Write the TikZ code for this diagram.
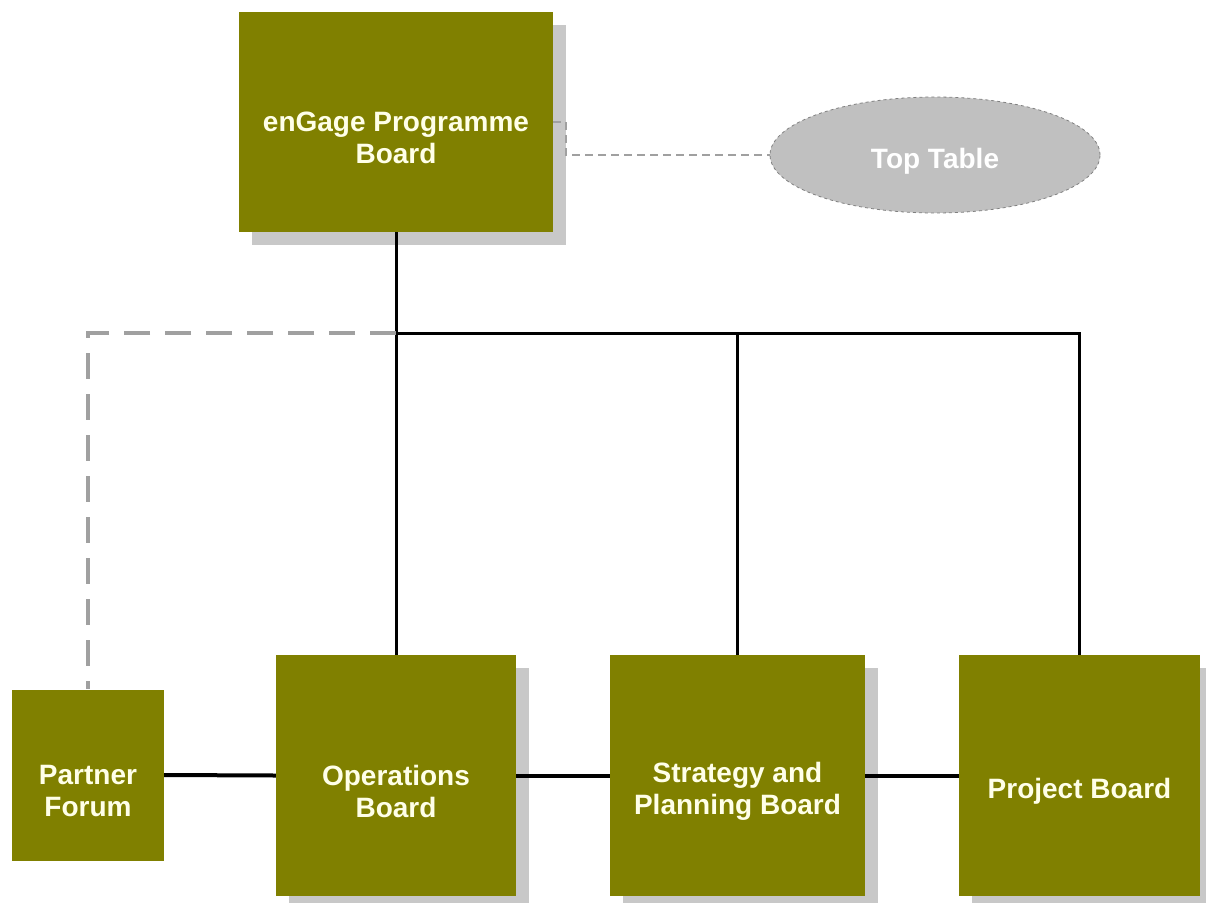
\documentclass[tikz,border=0pt]{standalone}
\usepackage{fontspec}
\setmainfont{Liberation Sans}
\usetikzlibrary{shapes.geometric,shadows}
\definecolor{olivebox}{RGB}{128,128,0}
\definecolor{shadowgray}{RGB}{200,200,200}
\definecolor{creamtext}{RGB}{255,255,232}
\definecolor{ellgray}{RGB}{192,192,192}
\definecolor{dashgray}{RGB}{160,160,160}
\tikzset{
  boardbox/.style={rectangle, fill=olivebox, inner sep=0pt},
  boardtext/.style={align=center, text=creamtext, inner sep=0pt,
    font=\fontsize{28}{32}\selectfont\bfseries},
  withtext/.style={label={[boardtext, yshift=-16pt]center:#1}},
  withshadow/.style={drop shadow={shadow xshift=13pt, shadow yshift=-13pt, opacity=1, fill=shadowgray}},
  solidlink/.style={line width=3pt, black},
  sidelink/.style={line width=4pt, black},
  dashlink/.style={line width=3.5pt, dashgray, dash pattern=on 26pt off 15pt},
  thindash/.style={line width=1.5pt, dashgray, dash pattern=on 8pt off 5pt},
}
\begin{document}
\begin{tikzpicture}[x=1pt,y=-1pt]
\useasboundingbox (0,0) rectangle (1206,902);
\fill[white] (0,0) rectangle (1206,902);
\node[boardbox, withshadow, minimum width=314pt, minimum height=220pt,
  withtext={enGage Programme\\Board}] (top) at (396,122) {};
\node[ellipse, fill=ellgray, draw=gray, dashed, line width=0.8pt, minimum width=330pt, minimum height=116pt,
  label={[boardtext, text=white, yshift=-6pt]center:Top Table}] (tt) at (935,155) {};
\node[boardbox, minimum width=152pt, minimum height=171pt,
  withtext={Partner\\Forum}] (partner) at (88,775) {};
\node[boardbox, withshadow, minimum width=240pt, minimum height=241pt,
  withtext={Operations\\Board}] (ops) at (396,775.5) {};
\node[boardbox, withshadow, minimum width=255pt, minimum height=241pt,
  withtext={Strategy and\\Planning Board}] (strat) at (737.5,775.5) {};
\node[boardbox, withshadow, minimum width=241pt, minimum height=241pt,
  withtext={Project Board}] (proj) at (1079.5,775.5) {};
\coordinate (j) at (396,333);
\coordinate (tk) at (566,122);
\draw[solidlink] (top.south) -- (ops.north);
\draw[solidlink] (j) -| (strat.north);
\draw[solidlink] (j) -| (proj.north);
\draw[dashlink] (j) -| (partner.north);
\draw[sidelink] (partner.east) -- (ops.west);
\draw[sidelink] (ops.east) -- (strat.west);
\draw[sidelink] (strat.east) -- (proj.west);
\draw[thindash] (top.east) -- (tk) |- (tt.west);
\end{tikzpicture}
\end{document}
